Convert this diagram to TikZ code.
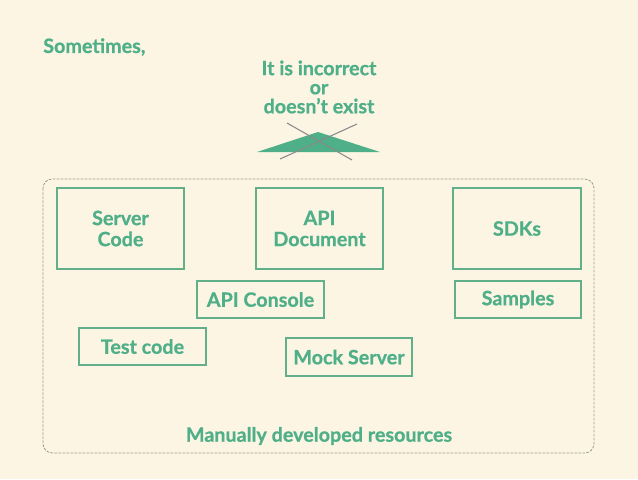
\documentclass[tikz,border=0pt]{standalone}
\usepackage{fontspec}
\setmainfont{Lato}
\newfontfamily\hv[BoldFeatures={FakeBold=0.7}]{Lato}
\definecolor{bg}{HTML}{FDF5E4}
\definecolor{grn}{HTML}{4EAF88}
\definecolor{boxgrn}{HTML}{62B08A}
\definecolor{dashgray}{HTML}{9A9A9A}
\definecolor{crossgray}{HTML}{8A8A8A}
\begin{document}
\begin{tikzpicture}[x=0.75pt,y=-0.75pt,
  lbl/.style={text=grn,font=\hv\bfseries\fontsize{14.8}{15.8}\selectfont,align=center,inner sep=0pt},
  rbox/.style={draw=boxgrn,line width=0.8pt}]
\fill[bg] (0,0) rectangle (638,479);
\useasboundingbox (0,0) rectangle (638,479);
% outer dashed frame
\draw[dashgray,dash pattern=on 2pt off 1pt,line width=0.6pt,rounded corners=7pt] (43,179) rectangle (594,453);
% boxes
\draw[rbox] (57,188) rectangle (184,269) node[midway,lbl] (sc) {Server\\Code};
\draw[rbox] (256,188) rectangle (383,269) node[midway,lbl] (ad) {API\\Document};
\draw[rbox] (453,188) rectangle (581,269) node[midway,lbl] (sdk) {SDKs};
\draw[rbox] (455,281) rectangle (581,318) node[midway,lbl] (smp) {Samples};
\draw[rbox] (197,281) rectangle (324,318) node[midway,lbl] (con) {API Console};
\draw[rbox] (79,328) rectangle (206,365) node[midway,lbl] (tc) {Test code};
\draw[rbox] (286,338) rectangle (412,376) node[midway,lbl] (ms) {Mock Server};
% texts
\node[lbl,anchor=west] (st) at (43,47) {Sometimes,};
\node[lbl] (inc) at (319,87) {It is incorrect\\[-1.5pt]or\\[-1.5pt]doesn’t exist};
\node[lbl] (man) at (319,436) {Manually developed resources};
% triangle and cross
\fill[grn] (257,152) -- (318,132) -- (380,152) -- cycle;
\coordinate (c1a) at (287,123); \coordinate (c1b) at (352,160);
\coordinate (c2a) at (357,124); \coordinate (c2b) at (280,159);
\draw[crossgray,line width=0.8pt] (c1a) -- (c1b);
\draw[crossgray,line width=0.8pt] (c2a) -- (c2b);
\end{tikzpicture}
\end{document}
